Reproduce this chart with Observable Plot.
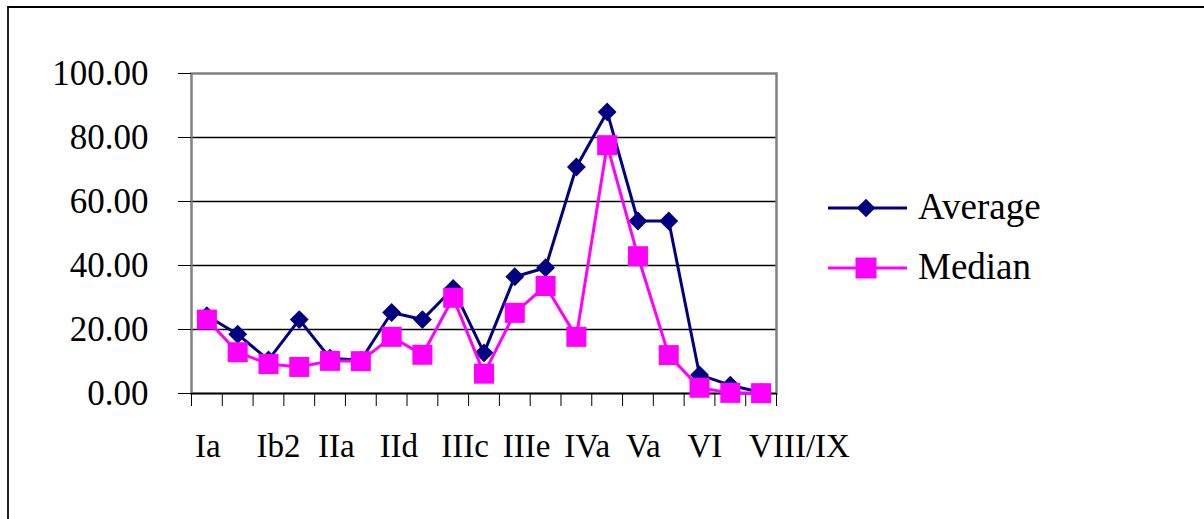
<!DOCTYPE html>
<html>
<head>
<meta charset="utf-8">
<script src="https://cdn.jsdelivr.net/npm/d3@7"></script>
<script src="https://cdn.jsdelivr.net/npm/@observablehq/plot@0.6"></script>
<style>
  body { margin: 0; background: #fff; }
  #chart { position: relative; width: 1204px; height: 519px; overflow: hidden;
           font-family: "Liberation Serif", "Times New Roman", serif; }
  #border { position: absolute; left: 7px; top: 6px; width: 1400px; height: 700px;
            border-top: 2px solid #000; border-left: 2px solid #222; }
  #chart svg { position: absolute; left: 0; top: 0; }
</style>
</head>
<body>
<div id="chart"><div id="border"></div></div>
<script>
// Stage categories (only every other one gets a printed label)
const categories = ["Ia", "Ib1", "Ib2", "Ic", "IIa", "IIb", "IId", "IIIa", "IIIc", "IIId",
                    "IIIe", "IIIf", "IVa", "IVb", "Va", "Vb", "VI", "VII", "VIII/IX"];
const shownLabels = ["Ia", "Ib2", "IIa", "IId", "IIIc", "IIIe", "IVa", "Va", "VI", "VIII/IX"];
const average = [24.3, 18.5, 10.5, 23.1, 11.0, 10.4, 25.3, 23.1, 32.8, 12.7,
                 36.5, 39.3, 70.8, 88.0, 53.9, 53.9, 5.8, 2.6, 0.3];
const median  = [23.1, 12.9, 9.2, 8.3, 10.2, 10.1, 17.7, 12.1, 29.9, 6.2,
                 25.2, 33.6, 17.7, 77.6, 42.9, 12.0, 1.8, 0.2, 0.1];
const yTicks = [0, 20, 40, 60, 80, 100];
const seriesNames = ["Average", "Median"];
const seriesColors = ["#000080", "#FF00FF"];

const rows = categories.map((c, i) => ({i, c, average: average[i], median: median[i]}));
const indexOf = new Map(categories.map((c, i) => [c, i]));
const font = "'Liberation Serif', 'Times New Roman', serif";

const plot = Plot.plot({
  width: 1204,
  height: 519,
  marginLeft: 191,
  marginRight: 428,
  marginTop: 73,
  marginBottom: 126,
  style: {fontFamily: font, background: "transparent", overflow: "visible", color: "#000"},
  x: {domain: [-0.5, categories.length - 0.5]},
  y: {domain: [0, 100]},
  marks: [
    Plot.gridY(yTicks.filter(v => v > 0 && v < 100), {stroke: "#000", strokeOpacity: 1, strokeWidth: 1.3}),
    Plot.frame({stroke: "#808080", strokeWidth: 2.5}),
    Plot.ruleY([0], {stroke: "#000", strokeWidth: 1.5}),
    Plot.axisY(yTicks, {label: null, tickSize: 13, tickPadding: 30, fontSize: 35, fontFamily: font,
                        tickFormat: d3.format(".2f"), stroke: "#000", fill: "#000"}),
    // tick marks between categories
    Plot.axisX(d3.range(categories.length + 1).map(k => k - 0.5),
               {label: null, tickSize: 13, tickFormat: () => "", stroke: "#000"}),
    // category labels, starting at the left edge of their slot
    Plot.axisX(shownLabels.map(l => indexOf.get(l)),
               {label: null, tickSize: 0, tickPadding: 40, fontSize: 33, fontFamily: font,
                textAnchor: "start", dx: -12,
                tickFormat: i => categories[i], fill: "#000"}),
    Plot.line(rows, {x: "i", y: "average", stroke: seriesColors[0], strokeWidth: 3}),
    Plot.dot(rows, {x: "i", y: "average", symbol: "diamond2", r: 8.5, fill: seriesColors[0], stroke: "none"}),
    Plot.line(rows, {x: "i", y: "median", stroke: seriesColors[1], strokeWidth: 3}),
    Plot.dot(rows, {x: "i", y: "median", symbol: "square", r: 11.3, fill: seriesColors[1], stroke: "none"})
  ]
});
document.getElementById("chart").appendChild(plot);

// Legend to the right of the plot area
const legend = d3.select("#chart").append("svg")
  .attr("width", 1204).attr("height", 519)
  .style("font-family", font);
const symbols = [d3.symbolDiamond2, d3.symbolSquare];
const symbolSizes = [2 * 10.5 * 10.5, 21 * 21];
seriesNames.forEach((name, k) => {
  const g = legend.append("g").attr("transform", `translate(0,${208 + k * 60})`);
  g.append("line").attr("x1", 828).attr("x2", 907).attr("y1", 0).attr("y2", 0)
    .attr("stroke", seriesColors[k]).attr("stroke-width", 3);
  g.append("path").attr("d", d3.symbol(symbols[k], symbolSizes[k])())
    .attr("transform", "translate(866,0)").attr("fill", seriesColors[k]);
  g.append("text").attr("x", 918).attr("y", 11).attr("font-size", 37)
    .attr("fill", "#000").text(name);
});
</script>
</body>
</html>
